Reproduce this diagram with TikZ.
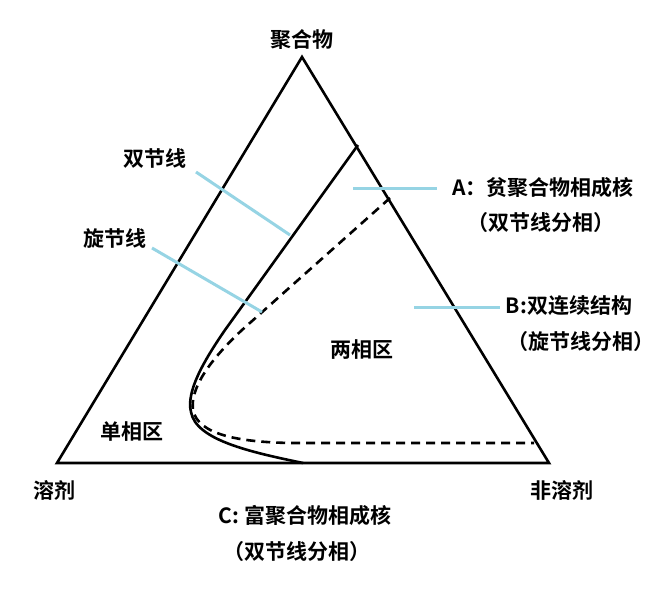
\documentclass[tikz,border=0pt]{standalone}
\usepackage{fontspec}
\setmainfont{Noto Sans CJK SC}[BoldFont={Noto Sans CJK SC Bold}]
\begin{document}
\begin{tikzpicture}[x=1pt,y=-1pt,
  lbl/.style={font=\fontsize{21}{23}\selectfont\bfseries, inner sep=0pt},
  edge/.style={line width=2.6pt, line join=miter},
  curve/.style={line width=2.6pt},
  dcurve/.style={line width=2.6pt, dash pattern=on 9pt off 6pt},
  pointer/.style={line width=3pt, draw={rgb,255:red,150;green,212;blue,228}}]
\useasboundingbox (0,0) rectangle (667,594);
% triangle
\coordinate (top) at (302,57);
\coordinate (lft) at (57,463);
\coordinate (rgt) at (549,463);
\draw[edge] (top) -- (lft) -- (rgt) -- cycle;
% binodal
\coordinate (b0) at (358,145);
\coordinate (b1) at (225,330);
\coordinate (b2) at (191,412);
\coordinate (b3) at (303,463);
\draw[curve] (b0) -- (b1) .. controls (203,362) and (186,392) .. (b2) .. controls (196,440) and (250,452) .. (b3);
% spinodal
\coordinate (s0) at (390,198);
\coordinate (s1) at (242,330);
\coordinate (s2) at (193,410);
\coordinate (s3) at (290,443);
\coordinate (s4) at (534,443);
\draw[dcurve] (s0) -- (s1) .. controls (210,360) and (190,388) .. (s2) .. controls (198,435) and (240,442) .. (s3) -- (s4);
% labels
\node[lbl] (poly) at (302,40) {聚合物};
\node[lbl] (solv) at (55,490) {溶剂};
\node[lbl] (nsolv) at (562,490) {非溶剂};
\node[lbl] (one) at (132,432) {单相区};
\node[lbl] (two) at (362,350) {两相区};
\node[lbl] (bin) at (155,158) {双节线};
\node[lbl] (spin) at (115,238) {旋节线};
\node[lbl] (A1) at (543,188) {A：贫聚合物相成核};
\node[lbl] (A2) at (541,223) {（双节线分相）};
\node[lbl] (B1) at (569,306) {B:双连续结构};
\node[lbl] (B2) at (581,342) {（旋节线分相）};
\node[lbl] (C1) at (305,516) {C: 富聚合物相成核};
\node[lbl] (C2) at (297,552) {（双节线分相）};
% pointers
\coordinate (pb0) at (196,172); \coordinate (pb1) at (290,235);
\coordinate (ps0) at (152,248); \coordinate (ps1) at (262,312);
\coordinate (pa0) at (353,188); \coordinate (pa1) at (437,188);
\coordinate (pc0) at (414,307); \coordinate (pc1) at (500,307);
\draw[pointer] (pb0) -- (pb1);
\draw[pointer] (ps0) -- (ps1);
\draw[pointer] (pa0) -- (pa1);
\draw[pointer] (pc0) -- (pc1);
\end{tikzpicture}
\end{document}
